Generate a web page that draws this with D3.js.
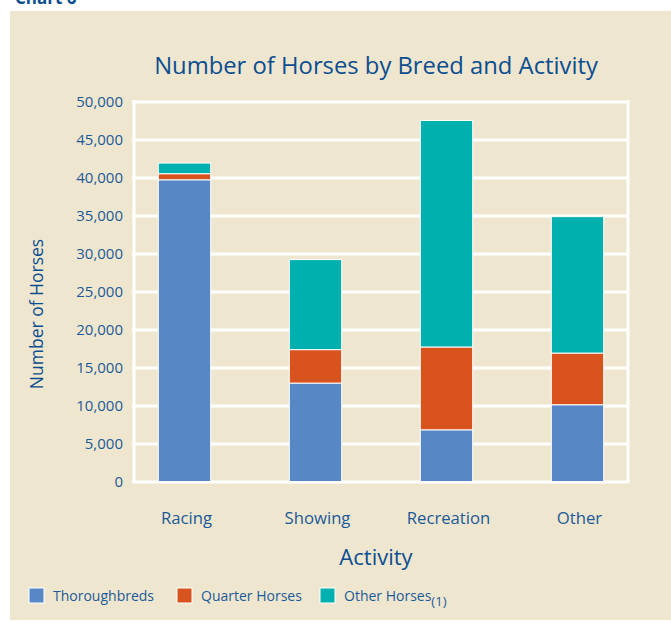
<!DOCTYPE html>
<html lang="en">
<head>
    <meta charset="UTF-8">
    <title>Number of Horses by Breed and Activity</title>
    <script src="https://d3js.org/d3.v7.min.js"></script>
    <style>
        body { margin: 0; background: #fff; }
        svg text { font-family: "Open Sans", "Noto Sans", sans-serif; }
    </style>
</head>
<body>
    <div id="chart"></div>

    <script>
        // data
        const activities = ["Racing", "Showing", "Recreation", "Other"];
        const breeds = ["Thoroughbreds", "Quarter Horses", "Other Horses"];
        const thoroughbreds = [39700, 12950, 6800, 10100];
        const quarterHorses = [800, 4400, 10900, 6800];
        const otherHorses = [1400, 11850, 29800, 17950];
        const yTicks = [0, 5000, 10000, 15000, 20000, 25000, 30000, 35000, 40000, 45000, 50000];

        const colors = ["#5787c5", "#d9531e", "#00b0af"];
        const textColor = "#1b5a98";
        const titleColor = "#0b4e8f";

        const W = 671, H = 621;
        const plot = {left: 134, right: 628, top: 101.5, bottom: 481.5};

        const svg = d3.select("#chart")
          .append("svg")
            .attr("width", W)
            .attr("height", H);

        // beige panel
        svg.append("rect")
            .attr("x", 10).attr("y", 11)
            .attr("width", W - 10).attr("height", 609)
            .attr("fill", "#efe6cf");

        // heading that is cut off at the very top
        svg.append("text")
            .attr("x", 15).attr("y", 4)
            .attr("fill", titleColor)
            .style("font-size", "17px")
            .style("font-weight", "bold")
            .text("Chart 6");

        // build stacked table
        const table = activities.map((a, i) => ({
            activity: a,
            "Thoroughbreds": thoroughbreds[i],
            "Quarter Horses": quarterHorses[i],
            "Other Horses": otherHorses[i]
        }));
        const stacked = d3.stack().keys(breeds)(table);

        const x = d3.scaleBand()
            .domain(activities)
            .range([119, 643])
            .paddingInner(0.6)
            .paddingOuter(0.3);

        const y = d3.scaleLinear()
            .domain([0, 50000])
            .range([plot.bottom, plot.top]);

        // gridlines
        svg.append("g")
            .attr("transform", `translate(${plot.left},0)`)
            .call(d3.axisLeft(y).tickValues(yTicks).tickSize(-(plot.right - plot.left)).tickSizeOuter(0).tickFormat(""))
            .call(g => g.select(".domain").remove())
            .call(g => g.selectAll("line").attr("stroke", "#fff").attr("stroke-width", 3).attr("x1", -2));

        // frame sides
        svg.append("line")
            .attr("x1", plot.left).attr("x2", plot.left)
            .attr("y1", plot.top - 1.5).attr("y2", plot.bottom + 1.5)
            .attr("stroke", "#fff").attr("stroke-width", 3);
        svg.append("line")
            .attr("x1", plot.right).attr("x2", plot.right)
            .attr("y1", plot.top - 1.5).attr("y2", plot.bottom + 1.5)
            .attr("stroke", "#fff").attr("stroke-width", 3);

        // y tick labels
        svg.append("g")
            .selectAll("text")
            .data(yTicks)
            .join("text")
                .attr("x", 123)
                .attr("y", d => y(d))
                .attr("dy", "0.36em")
                .attr("text-anchor", "end")
                .attr("fill", textColor)
                .style("font-size", "15px")
                .text(d => d3.format(",")(d));

        // bars
        svg.append("g")
            .selectAll("g")
            .data(stacked)
            .join("g")
                .attr("fill", (d, i) => colors[i])
            .selectAll("rect")
            .data(d => d)
            .join("rect")
                .attr("x", d => x(d.data.activity))
                .attr("y", d => y(d[1]))
                .attr("width", x.bandwidth())
                .attr("height", d => y(d[0]) - y(d[1]))
                .attr("stroke", "#fff")
                .attr("stroke-width", 1);

        // x labels
        svg.append("g")
            .selectAll("text")
            .data(activities)
            .join("text")
                .attr("x", d => x(d) + x.bandwidth() / 2 + 2)
                .attr("y", 524)
                .attr("text-anchor", "middle")
                .attr("fill", textColor)
                .style("font-size", "16.7px")
                .text(d => d);

        // titles
        svg.append("text")
            .attr("x", 376).attr("y", 74)
            .attr("text-anchor", "middle")
            .attr("fill", titleColor)
            .style("font-size", "23.8px")
            .text("Number of Horses by Breed and Activity");

        svg.append("text")
            .attr("x", 376).attr("y", 565)
            .attr("text-anchor", "middle")
            .attr("fill", titleColor)
            .style("font-size", "22px")
            .text("Activity");

        svg.append("text")
            .attr("transform", "translate(43,314) rotate(-90)")
            .attr("text-anchor", "middle")
            .attr("fill", titleColor)
            .style("font-size", "17.5px")
            .text("Number of Horses");

        // legend
        const legendX = [29, 177, 320];
        const legend = svg.append("g")
            .selectAll("g")
            .data(breeds)
            .join("g")
                .attr("transform", (d, i) => `translate(${legendX[i]},588)`);
        legend.append("rect")
            .attr("width", 15).attr("height", 15)
            .attr("fill", (d, i) => colors[i])
            .attr("stroke", "#fff").attr("stroke-width", 1);
        const lt = legend.append("text")
            .attr("x", 24).attr("y", 12.5)
            .attr("fill", textColor)
            .style("font-size", "14px")
            .text(d => d);
        lt.filter(d => d === "Other Horses")
            .append("tspan")
            .attr("dy", 5)
            .style("font-size", "13px")
            .text("(1)");
    </script>
</body>
</html>
